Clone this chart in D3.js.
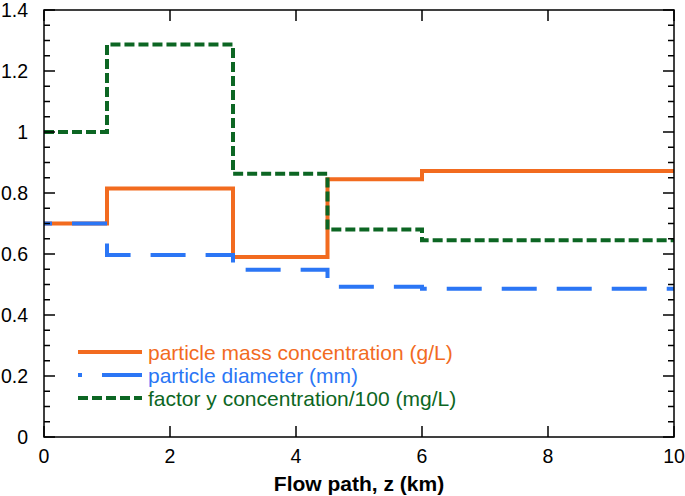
<!DOCTYPE html>
<html>
<head>
<meta charset="utf-8">
<script src="https://cdnjs.cloudflare.com/ajax/libs/d3/7.8.5/d3.min.js"></script>
<style>
  body { margin: 0; background: #fff; }
  svg { display: block; font-family: "Liberation Sans", Arial, sans-serif; }
</style>
</head>
<body>
<div class="svgcontainer"></div>
<script>
// step boundaries along the flow path (km)
const zBreaks = [0, 1, 3, 4.5, 6, 10]

// value held on each interval between breaks
const massConc = [0.70, 0.815, 0.59, 0.845, 0.872]
const diameter = [0.70, 0.597, 0.548, 0.493, 0.486]
const factorY = [1.0, 1.287, 0.863, 0.68, 0.645]

const xTicks = [0, 2, 4, 6, 8, 10]
const yTicks = [0, 0.2, 0.4, 0.6, 0.8, 1, 1.2, 1.4]

const legendLabels = [
  "particle mass concentration (g/L)",
  "particle diameter (mm)",
  "factor y concentration/100 (mg/L)"
]

const width = 685, height = 496
const margin = {left: 44, right: 11, top: 10, bottom: 59}

const svg = d3.select(".svgcontainer")
  .append("svg")
  .attr("width", width)
  .attr("height", height)

const x = d3.scaleLinear()
  .domain([0, 10])
  .range([margin.left, width - margin.right])

const y = d3.scaleLinear()
  .domain([0, 1.4])
  .range([height - margin.bottom, margin.top])

// turn interval values into step points
function steps(vals) {
  let pts = []
  vals.forEach((v, i) => {
    pts.push([zBreaks[i], v])
    pts.push([zBreaks[i + 1], v])
  })
  return pts
}

const line = d3.line()
  .x(d => x(d[0]))
  .y(d => y(d[1]))

const series = [
  {vals: massConc, color: "#f26b1f", dash: null},
  {vals: diameter, color: "#2b76f5", dash: "35,20", offset: 27},
  {vals: factorY, color: "#0c6623", dash: "10,4", offset: 0}
]

series.forEach(s => {
  svg.append("path")
    .attr("d", line(steps(s.vals)))
    .attr("fill", "none")
    .attr("stroke", s.color)
    .attr("stroke-width", 4)
    .attr("stroke-dasharray", s.dash)
    .attr("stroke-dashoffset", s.offset || 0)
})

// frame with inward ticks on all sides
const minorY = d3.range(0, 1.4001, 0.05)

svg.append("rect")
  .attr("x", x(0)).attr("y", y(1.4))
  .attr("width", x(10) - x(0)).attr("height", y(0) - y(1.4))
  .attr("fill", "none").attr("stroke", "#000").attr("stroke-width", 1.5)

const isMajor = v => Math.abs(Math.round(v / 0.2) * 0.2 - v) < 1e-6

minorY.forEach(v => {
  let len = isMajor(v) ? 11 : 6
  svg.append("line")
    .attr("x1", x(0)).attr("x2", x(0) + len)
    .attr("y1", y(v)).attr("y2", y(v))
    .attr("stroke", "#000").attr("stroke-width", 1.5)
  svg.append("line")
    .attr("x1", x(10)).attr("x2", x(10) - len)
    .attr("y1", y(v)).attr("y2", y(v))
    .attr("stroke", "#000").attr("stroke-width", 1.5)
})

xTicks.forEach(v => {
  svg.append("line")
    .attr("x1", x(v)).attr("x2", x(v))
    .attr("y1", y(0)).attr("y2", y(0) - 11)
    .attr("stroke", "#000").attr("stroke-width", 1.5)
  svg.append("line")
    .attr("x1", x(v)).attr("x2", x(v))
    .attr("y1", y(1.4)).attr("y2", y(1.4) + 11)
    .attr("stroke", "#000").attr("stroke-width", 1.5)
})

// tick labels
svg.selectAll(".ylab")
  .data(yTicks)
  .enter().append("text")
  .attr("x", 28)
  .attr("y", d => y(d) + 7)
  .attr("text-anchor", "end")
  .attr("font-size", 19.5)
  .text(d => d3.format("~g")(d))

svg.selectAll(".xlab")
  .data(xTicks)
  .enter().append("text")
  .attr("x", d => x(d))
  .attr("y", y(0) + 26)
  .attr("text-anchor", "middle")
  .attr("font-size", 19.5)
  .text(d => d)

svg.append("text")
  .attr("x", (x(0) + x(10)) / 2)
  .attr("y", 491)
  .attr("text-anchor", "middle")
  .attr("font-size", 21)
  .attr("font-weight", "bold")
  .text("Flow path, z (km)")

// legend
const legend = svg.append("g")
legendLabels.forEach((lab, i) => {
  let ly = 352 + i * 23
  let s = series[i]
  legend.append("line")
    .attr("x1", 78).attr("x2", 142)
    .attr("y1", ly).attr("y2", ly)
    .attr("stroke", s.color)
    .attr("stroke-width", 4)
    .attr("stroke-dasharray", i == 1 ? "4,20,40" : s.dash)
  legend.append("text")
    .attr("x", 148)
    .attr("y", ly + 7.5)
    .attr("font-size", 21)
    .attr("fill", s.color)
    .text(lab)
})
</script>
</body>
</html>
